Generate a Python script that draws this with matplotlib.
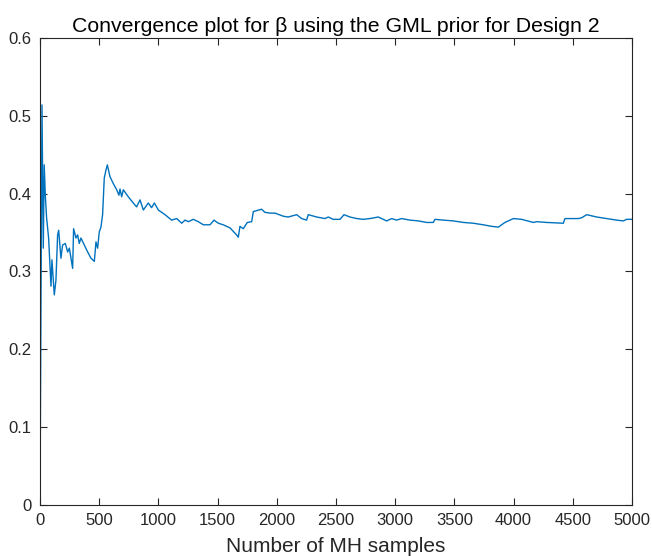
import numpy as np
import matplotlib
matplotlib.use("Agg")
import matplotlib.pyplot as plt

# running estimate of beta against number of MH samples
n_samples = [0, 17, 28, 36, 45, 56, 73, 93, 101, 113, 121, 135, 149, 158, 177, 191,
             214, 234, 248, 276, 284, 304, 318, 332, 346, 374, 403, 431, 459, 473,
             487, 501, 515, 529, 543, 557, 569, 591, 619, 648, 667, 676, 690, 704,
             746, 788, 816, 845, 873, 915, 943, 966, 1000, 1056, 1112, 1155, 1197,
             1225, 1253, 1295, 1337, 1380, 1436, 1470, 1506, 1548, 1605, 1661, 1675,
             1689, 1717, 1751, 1788, 1802, 1872, 1900, 1943, 1985, 2055, 2097, 2168,
             2210, 2252, 2266, 2337, 2407, 2435, 2477, 2534, 2568, 2618, 2675, 2731,
             2787, 2857, 2928, 2970, 3012, 3054, 3125, 3195, 3266, 3322, 3336, 3406,
             3491, 3576, 3660, 3744, 3815, 3871, 3927, 3998, 4068, 4167, 4195, 4279,
             4420, 4434, 4547, 4575, 4617, 4702, 4786, 4870, 4927, 4955, 5000]
beta_mean = [0.0, 0.514, 0.330, 0.437, 0.398, 0.369, 0.343, 0.281, 0.315, 0.287,
             0.270, 0.289, 0.347, 0.353, 0.317, 0.334, 0.336, 0.325, 0.330, 0.304,
             0.355, 0.343, 0.347, 0.336, 0.343, 0.334, 0.325, 0.317, 0.313, 0.338,
             0.330, 0.351, 0.357, 0.373, 0.420, 0.430, 0.437, 0.422, 0.413, 0.405,
             0.398, 0.406, 0.396, 0.405, 0.396, 0.388, 0.383, 0.392, 0.379, 0.388,
             0.382, 0.388, 0.379, 0.373, 0.366, 0.368, 0.362, 0.366, 0.364, 0.367,
             0.364, 0.360, 0.360, 0.366, 0.362, 0.360, 0.356, 0.347, 0.344, 0.358,
             0.355, 0.363, 0.364, 0.377, 0.380, 0.376, 0.375, 0.375, 0.371, 0.370,
             0.373, 0.368, 0.366, 0.373, 0.370, 0.368, 0.370, 0.367, 0.367, 0.373,
             0.370, 0.368, 0.367, 0.368, 0.370, 0.365, 0.368, 0.366, 0.368, 0.366,
             0.365, 0.363, 0.363, 0.367, 0.366, 0.365, 0.363, 0.362, 0.360, 0.358,
             0.357, 0.363, 0.368, 0.367, 0.363, 0.364, 0.363, 0.362, 0.368, 0.368,
             0.369, 0.373, 0.370, 0.368, 0.366, 0.365, 0.367, 0.367]

xticks = np.arange(0, 5001, 500)
yticks = np.arange(0, 0.61, 0.1)

plt.rcParams['font.family'] = ['Liberation Sans', 'DejaVu Sans']
axis_grey = '#262626'

fig = plt.figure(figsize=(6.52, 5.56), dpi=100)
ax = fig.add_axes([0.0613, 0.0917, 0.908, 0.840])
ax.plot(n_samples, beta_mean, color='#0072BD', linewidth=1.0)

ax.set_xlim(0, 5000)
ax.set_ylim(0, 0.6)
ax.set_xticks(xticks)
ax.set_yticks(yticks)
ax.set_xticklabels([str(v) for v in xticks])
ax.set_yticklabels(['0', '0.1', '0.2', '0.3', '0.4', '0.5', '0.6'])
ax.tick_params(direction='in', top=True, right=True, length=5, width=0.8,
               labelsize=12, colors=axis_grey)
ax.tick_params(axis='x', pad=6)
ax.tick_params(axis='y', pad=6)
for s in ax.spines.values():
    s.set_color(axis_grey)
    s.set_linewidth(0.8)

ax.set_title('Convergence plot for β using the GML prior for Design 2',
             fontsize=15.3, color='black', pad=4)
ax.set_xlabel('Number of MH samples', fontsize=15, color=axis_grey, labelpad=6)

fig.savefig('out.png', dpi=100)
